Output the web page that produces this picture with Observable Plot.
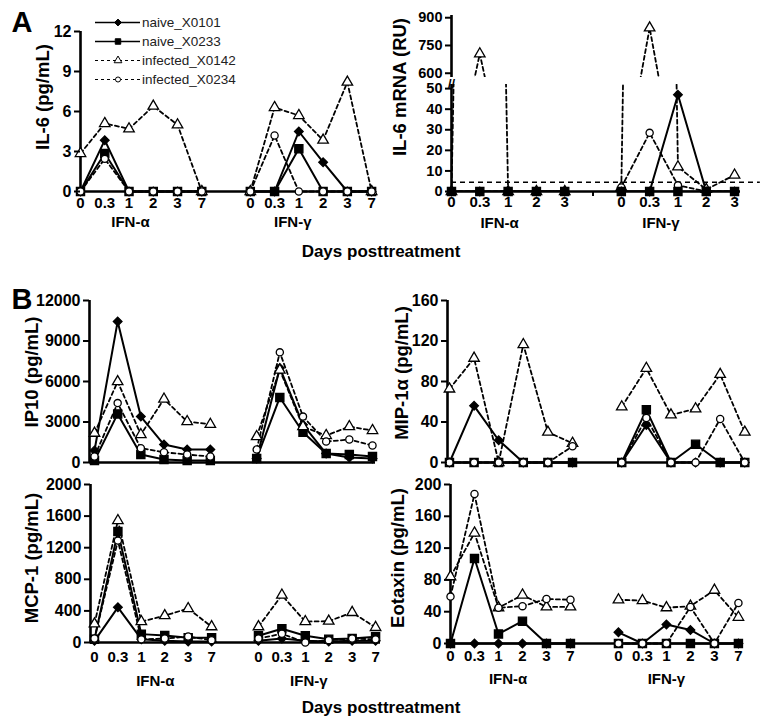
<!DOCTYPE html>
<html><head><meta charset="utf-8">
<script src="https://cdn.jsdelivr.net/npm/d3@7"></script>
<script src="https://cdn.jsdelivr.net/npm/@observablehq/plot@0.6"></script>
<style>
body{margin:0;background:#fff;}
#root{position:relative;width:769px;height:724px;overflow:hidden;font-family:Arial,"Liberation Sans",sans-serif;color:#000;background:#fff;}
.abs{position:absolute;}
.ylab{position:absolute;transform:translate(-50%,-50%) rotate(-90deg);white-space:nowrap;font-weight:bold;font-size:18.5px;}
.ctr{position:absolute;transform:translate(-50%,-50%);white-space:nowrap;font-weight:bold;}
</style></head><body><div id="root"></div>
<script>
// ---------- data ----------
const days = ["0","0.3","1","2","3","7"];
const mrnaDays = ["0","0.3","1","2","3"];
const treatments = ["IFN-α","IFN-γ"];
const seriesNames = ["naive_X0101","naive_X0233","infected_X0142","infected_X0234"];

// values: IFN-α days followed by IFN-γ days
const il6_X0101 = [0,3.85,0,0,0,0, 0,0,4.5,2.2,0,0];
const il6_X0233 = [0,2.85,0,0,0,0, 0,0,3.2,0,0,0];
const il6_X0142 = [2.85,5.1,4.7,6.4,5.0,0, 0,6.3,5.7,3.85,8.2,0];
const il6_X0234 = [0,2.45,0,0,0,0, 0,4.2,0,0,0,0];

const mrna_X0101 = [0,0,0,0,0, 0,0,47,0,0];
const mrna_X0233 = [0,0,0,0,0, 0,0,0,0,0];
const mrna_X0142 = [0,705,0,0,0, 2,845,12,1,8];
const mrna_X0234 = [0,0,0,0,0, 2,28.5,3,0,0];
const mrnaCutoff = 4.5;

const ip10_X0101 = [890,10450,3400,1330,960,960, 300,7000,2800,660,370,300];
const ip10_X0233 = [150,3600,590,220,150,150, 300,4820,2240,660,590,440];
const ip10_X0142 = [2170,5990,2070,4700,3030,2830, 1920,6850,2660,2000,2660,2370];
const ip10_X0234 = [440,4400,1060,760,590,440, 960,8160,3400,1550,1700,1260];

const mip_X0101 = [0,56,22,0,0,0, 0,37,0,0,0,0];
const mip_X0233 = [0,0,0,0,0,0, 0,52,0,18,0,0];
const mip_X0142 = [72.6,103,0,116.5,30,19, 55,93,47,53,87,30];
const mip_X0234 = [0,0,0,0,0,16, 0,44,0,0,43,0];

const mcp_X0101 = [21,445,42,21,13,13, 21,50,21,13,21,21];
const mcp_X0233 = [42,1404,106,90,60,60, 85,175,85,42,50,72];
const mcp_X0142 = [235,1544,265,340,430,200, 200,600,265,270,380,190];
const mcp_X0234 = [50,1290,40,50,75,30, 50,110,0,30,50,40];

const eot_X0101 = [0,0,0,0,0,0, 14,0,24,17,0,0];
const eot_X0233 = [0,107,12,28,0,0, 0,0,0,0,0,0];
const eot_X0142 = [84,139,45,61,46,46, 55,54,45,47,67,33];
const eot_X0234 = [59,188,45,47,56,55, 0,0,0,46,0,51];

// ---------- helpers ----------
const symOf = {naive_X0101:"diamond2", naive_X0233:"square", infected_X0142:"triangle", infected_X0234:"circle"};
const rOf = {naive_X0101:3.9, naive_X0233:4.6, infected_X0142:3.9, infected_X0234:3.6};
const FONT = "Arial, 'Liberation Sans', sans-serif";
const root = document.getElementById("root");

function build(values){
  const rows = [];
  values.forEach((arr, si) => {
    const n = arr.length/2;
    arr.forEach((v,i) => rows.push({series: seriesNames[si], group: i<n?treatments[0]:treatments[1], idx: i<n?i:i+1, value: v}));
  });
  return rows;
}

function drawPanel(p){
  const rows = build(p.values);
  const n = p.values[0].length/2;
  const idxs = d3.range(2*n+1).filter(i => i!==n);
  const labelOf = i => p.labels[i<n ? i : i-n-1];
  const [x0,x1] = p.xDomain, [y0,y1] = p.yDomain;
  const marks = [];
  if (p.cutoff != null) marks.push(Plot.ruleY([p.cutoff], {x1: x0, x2: x1 + 0.7, stroke:"black", strokeWidth:1.6, strokeDasharray:"5,4"}));
  for (const s of p.order){
    const d = rows.filter(r => r.series===s);
    const naive = s.startsWith("naive");
    marks.push(Plot.line(d, {x:"idx", y:"value", z:"group", stroke:"black", strokeWidth: naive?2:1.8, strokeDasharray: naive?undefined:"4,3", clip: !!p.clip}));
  }
  if (!p.noBaseline) marks.push(Plot.ruleY([y0], {x1:x0, x2:x1, stroke:"black", strokeWidth:2.6}));
  marks.push(Plot.ruleX([x0], {y1:y0, y2:y1, stroke:"black", strokeWidth:2.6}));
  for (const s of p.order){
    const d = rows.filter(r => r.series===s && r.value>=y0 && r.value<=y1);
    const naive = s.startsWith("naive");
    marks.push(Plot.dot(d, {x:"idx", y:"value", symbol: symOf[s], r: rOf[s], fill: naive?"black":"white", stroke:"black", strokeWidth:1.3}));
  }
  marks.push(Plot.axisY({ticks: p.yTicks, tickSize:6, tickPadding:3, tickFormat: d => String(d), strokeWidth:2, label:null, fontSize:p.yFont || 16, fontWeight:"bold"}));
  if (p.tickMarks) marks.push(Plot.axisX({ticks: d3.range(2*n+1), tickSize:5, tickFormat: () => "", strokeWidth:2, label:null}));
  if (p.labels){
    marks.push(Plot.axisX({ticks: idxs, tickSize:0, tickPadding:p.xPad, tickFormat: labelOf, label:null, fontSize:15, fontWeight:"bold"}));
    marks.push(Plot.text(treatments.map((t,k)=>({name:t, at:p.groupAt[k]})), {x:"at", y:y0, text:"name", dy:p.groupDy, fontSize:15, fontWeight:"bold"}));
  }
  if (p.breakMark) marks.push(Plot.text([0], {x:x0, y:y1, text: () => "//", dy:-1, fontSize:13, fontWeight:"bold"}));
  const svg = Plot.plot({
    width:p.width, height:p.height,
    marginLeft:p.ml, marginRight:p.mr, marginTop:p.mt, marginBottom:p.mb,
    x:{type:"linear", domain:p.xDomain, axis:null},
    y:{type:"linear", domain:p.yDomain, axis:null},
    style:`background:transparent;overflow:visible;font-family:${FONT};font-size:15px;font-weight:bold;color:black;`,
    marks
  });
  const div = document.createElement("div");
  div.className = "abs";
  div.style.left = p.left+"px"; div.style.top = p.top+"px";
  div.appendChild(svg);
  root.appendChild(div);
}

function html(cls, text, x, y, extra){
  const el = document.createElement("div");
  el.className = cls; el.textContent = text;
  el.style.left = x+"px"; el.style.top = y+"px";
  if (extra) Object.assign(el.style, extra);
  root.appendChild(el);
}

const stdOrder = ["naive_X0101","naive_X0233","infected_X0142","infected_X0234"];

// ---------- panels ----------
drawPanel({left:0, top:0, width:385, height:240, ml:80, mr:10, mt:31, mb:49,
  xDomain:[0,12.16], yDomain:[0,12], yTicks:[0,3,6,9,12],
  values:[il6_X0101, il6_X0233, il6_X0142, il6_X0234], order:stdOrder,
  labels:days, xPad:6, groupAt:[2.06,8.75], groupDy:31});

drawPanel({left:385, top:0, width:384, height:80, ml:66, mr:29, mt:15, mb:3, yFont:14.5,
  xDomain:[0,10.21], yDomain:[577,912], yTicks:[600,750,900], noBaseline:true, clip:true,
  values:[mrna_X0101, mrna_X0233, mrna_X0142, mrna_X0234],
  order:["infected_X0142","infected_X0234","naive_X0101","naive_X0233"]});

drawPanel({left:385, top:80, width:384, height:160, ml:66, mr:29, mt:4, mb:49, yFont:14.5,
  xDomain:[0,10.21], yDomain:[0,52], yTicks:[0,10,20,30,40,50], clip:true, cutoff:mrnaCutoff, tickMarks:true, breakMark:true,
  values:[mrna_X0101, mrna_X0233, mrna_X0142, mrna_X0234],
  order:["infected_X0142","infected_X0234","naive_X0101","naive_X0233"],
  labels:mrnaDays, xPad:5, groupAt:[1.7,7.4], groupDy:32});

drawPanel({left:0, top:280, width:385, height:190, ml:89, mr:10, mt:20, mb:8,
  xDomain:[-0.216,12.13], yDomain:[0,12000], yTicks:[0,3000,6000,9000,12000],
  values:[ip10_X0101, ip10_X0233, ip10_X0142, ip10_X0234], order:stdOrder});

drawPanel({left:385, top:280, width:384, height:190, ml:62, mr:22, mt:20, mb:8,
  xDomain:[-0.08,12.11], yDomain:[0,160], yTicks:[0,40,80,120,160],
  values:[mip_X0101, mip_X0233, mip_X0142, mip_X0234], order:stdOrder});

drawPanel({left:0, top:470, width:385, height:220, ml:90, mr:5, mt:14, mb:48,
  xDomain:[-0.17,12.21], yDomain:[0,2000], yTicks:[0,400,800,1200,1600,2000],
  values:[mcp_X0101, mcp_X0233, mcp_X0142, mcp_X0234], order:stdOrder,
  labels:days, xPad:9, groupAt:[2.6,9.15], groupDy:39});

drawPanel({left:385, top:470, width:384, height:220, ml:65, mr:27, mt:14, mb:47,
  xDomain:[0,12.17], yDomain:[0,200], yTicks:[0,40,80,120,160,200],
  values:[eot_X0101, eot_X0233, eot_X0142, eot_X0234], order:stdOrder,
  labels:days, xPad:7, groupAt:[2.4,9.0], groupDy:36});

// ---------- texts ----------
html("ylab", "IL-6 (pg/mL)", 43, 97);
html("ylab", "IL-6 mRNA (RU)", 400, 87);
html("ylab", "IP10 (pg/mL)", 32, 372);
html("ylab", "MIP-1α (pg/mL)", 402, 373);
html("ylab", "MCP-1 (pg/mL)", 32, 558);
html("ylab", "Eotaxin (pg/mL)", 398, 558);
html("ctr", "Days posttreatment", 381, 252, {fontSize:"17px"});
html("ctr", "Days posttreatment", 381, 708, {fontSize:"17px"});
html("ctr", "A", 22, 22, {fontSize:"29px"});
html("ctr", "B", 22, 299, {fontSize:"29px"});

// ---------- legend ----------
const symFns = {diamond2:d3.symbolDiamond2, square:d3.symbolSquare, triangle:d3.symbolTriangle, circle:d3.symbolCircle};
const legSize = {diamond2:30, square:30, triangle:26, circle:20};
const leg = d3.select(root).append("svg").attr("class","abs").style("left","90px").style("top","10px")
  .attr("width",180).attr("height",82);
seriesNames.forEach((s,i) => {
  const y = 12.5 + 19*i;
  const naive = s.startsWith("naive");
  leg.append("line").attr("x1",5).attr("x2",50).attr("y1",y).attr("y2",y)
    .attr("stroke","black").attr("stroke-width", naive?1.5:1.2).attr("stroke-dasharray", naive?null:"3,3");
  leg.append("path").attr("d", d3.symbol(symFns[symOf[s]], legSize[symOf[s]])()).attr("transform",`translate(28,${y})`)
    .attr("fill", naive?"black":"white").attr("stroke","black").attr("stroke-width",1);
  leg.append("text").attr("x",52).attr("y",y).attr("dy","0.35em").attr("font-size",13.5).attr("font-family",FONT)
    .attr("fill","#222").text(s);
});
</script>
</body></html>
